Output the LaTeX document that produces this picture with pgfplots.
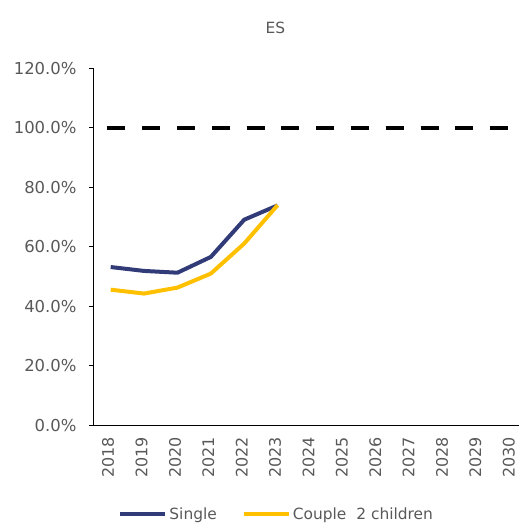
\documentclass[border=0pt]{standalone}
\usepackage{pgfplots}
\pgfplotsset{compat=1.18}
\usepackage{fontspec}
\setmainfont{DejaVu Sans}
\definecolor{navy}{HTML}{313B78}
\definecolor{gold}{HTML}{FFC000}
\definecolor{lbl}{HTML}{595959}
\begin{document}
\begin{tikzpicture}
\useasboundingbox (-94bp,-97.5bp) rectangle (425bp,425.5bp);
\clip (-94bp,-97.5bp) rectangle (425bp,425.5bp);
\begin{axis}[
  at={(0,0)}, anchor=south west,
  scale only axis, width=434bp, height=357.4bp,
  xmin=-0.5, xmax=12.5, ymin=0, ymax=120,
  axis lines=left, axis line style={black, line width=1bp, -},
  font=\fontsize{16.5}{19}\selectfont,
  xtick={0,...,12},
  xticklabels={2018,2019,2020,2021,2022,2023,2024,2025,2026,2027,2028,2029,2030},
  x tick label style={rotate=90, anchor=east, text=lbl, xshift=-8bp, yshift=2.5bp, font=\fontsize{16}{19}\selectfont},
  xtick style={draw=none},
  xtick align=inside,
  extra x ticks={-0.5,0.5,...,12.5},
  extra x tick labels={},
  extra x tick style={tick style={black, line width=1bp, draw=black}, major tick length=5bp, tick align=inside},
  ytick={0,20,...,120},
  yticklabels={0.0\%,20.0\%,40.0\%,60.0\%,80.0\%,100.0\%,120.0\%},
  y tick label style={text=lbl, xshift=-9bp},
  ytick style={black, line width=1bp},
  ytick align=outside,
  major tick length=5bp,
  clip=false,
  legend columns=2,
  legend style={at={(0.0558,-0.2476)}, anchor=west, draw=none, fill=none, inner sep=0pt,
    font=\fontsize{15.5}{18}\selectfont, text=lbl,
    /tikz/every even column/.append style={column sep=23bp}},
  legend image code/.code={\draw[#1] (0bp,0bp) -- (45bp,0bp);},
]
\addplot[black, line width=4bp, dash pattern=on 18bp off 16.8bp, forget plot] coordinates {(-0.1,100) (12.6,100)};
\addplot[navy, line width=4bp, line join=round] coordinates {
(0,53.2) (1,51.9) (2,51.3) (3,56.6) (4,69.1) (5,73.9)};
\addlegendentry{Single}
\addplot[gold, line width=4bp, line join=round] coordinates {
(0,45.6) (1,44.3) (2,46.3) (3,51.0) (4,61.1) (5,74.0)};
\addlegendentry{Couple\ \ 2 children}
\end{axis}
\node[text=lbl, font=\fontsize{15.5}{18}\selectfont] at (181.5bp,398bp) {ES};
\end{tikzpicture}
\end{document}
